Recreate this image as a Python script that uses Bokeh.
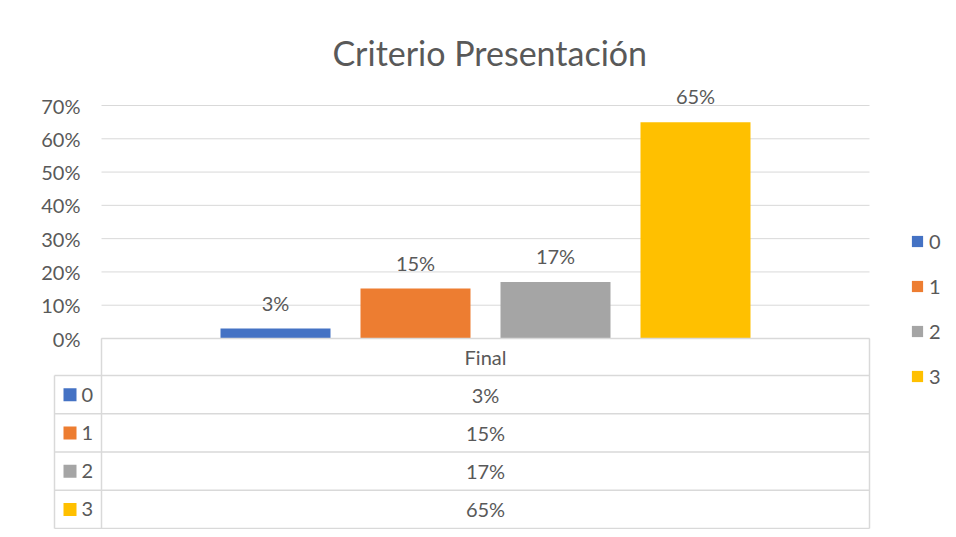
from bokeh.plotting import figure
from bokeh.models import (Range1d, FixedTicker, NumeralTickFormatter, Legend, LegendItem)
from bokeh.core.properties import value
from bokeh.embed import file_html
from bokeh.resources import INLINE

# ---- data ----
title_text = "Criterio Presentación"
category = "Final"
series = ["0", "1", "2", "3"]
values = [0.03, 0.15, 0.17, 0.65]
value_labels = ["3%", "15%", "17%", "65%"]
colors = ["#4472C4", "#ED7D31", "#A5A5A5", "#FFC000"]
y_ticks = [0.0, 0.1, 0.2, 0.3, 0.4, 0.5, 0.6, 0.7]

FONT = "Lato"
TXT = "#595959"
GRID = "#D9D9D9"
FS = "20px"

# ---- layout constants (pixels -> data units) ----
PX_Y = 0.7 / 233.0        # data units per pixel vertically
PX_X = 1.0 / 768.0        # data units per pixel horizontally (plot area = 0..1)

W, H = 948, 529
p = figure(width=W, height=H, output_backend="svg", toolbar_location=None,
           x_range=Range1d(-49 * PX_X, 1 + 79 * PX_X),
           y_range=Range1d(-191 * PX_Y, 0.7 + 25 * PX_Y),
           x_axis_location=None, y_axis_location="left",
           min_border_left=52, min_border_right=0, min_border_top=80, min_border_bottom=0)
p.outline_line_color = None
p.xgrid.visible = False
p.ygrid.visible = False

p.title.text = title_text
p.title.align = "left"
p.title.text_font = FONT
p.title.text_font_size = "34px"
p.title.text_font_style = "normal"
p.title.text_color = TXT
p.title.offset = 280
p.title.standoff = 16

yax = p.yaxis[0]
yax.ticker = FixedTicker(ticks=y_ticks)
yax.formatter = NumeralTickFormatter(format="0%")
yax.axis_line_color = None
yax.major_tick_line_color = None
yax.minor_tick_line_color = None
yax.major_tick_out = 0
yax.major_label_standoff = -28
yax.major_label_text_font = FONT
yax.major_label_text_font_size = FS
yax.major_label_text_color = TXT

# gridlines over the plot area only
p.segment(x0=[0.0] * len(y_ticks), x1=[1.0] * len(y_ticks), y0=y_ticks, y1=y_ticks,
          line_color=GRID, line_width=1)

# bars
step = 140 * PX_X
bw = 110 * PX_X
centers = [0.5 + (i - 1.5) * step for i in range(len(series))]
items = []
for i, s in enumerate(series):
    r = p.vbar(x=[centers[i]], top=[values[i]], bottom=0, width=bw,
               fill_color=colors[i], line_color=None)
    items.append(LegendItem(label=s, renderers=[r]))

# data labels
p.text(x=centers, y=values, text=value_labels, text_align="center", text_baseline="middle",
       y_offset=-26, text_font=value(FONT), text_font_size=FS, text_color=TXT)

# ---- data table ----
left_x = -47 * PX_X
header_h = 37 * PX_Y
row_h = 38.25 * PX_Y
n = len(series)
bottom_y = -header_h - n * row_h
row_tops = [-header_h - k * row_h for k in range(n)]
row_mid = [t - row_h / 2 for t in row_tops]

TL = "#D9D9D9"
p.segment(x0=[0, 1, 0], x1=[0, 1, 1], y0=[0, 0, 0], y1=[bottom_y, bottom_y, 0],
          line_color=TL, line_width=1.5)
p.segment(x0=[left_x] * (n + 1), x1=[1] * (n + 1),
          y0=row_tops + [bottom_y], y1=row_tops + [bottom_y], line_color=TL, line_width=1.5)
p.segment(x0=[left_x], x1=[left_x], y0=[-header_h], y1=[bottom_y], line_color=TL, line_width=1.5)

p.text(x=[0.5], y=[-header_h / 2], text=[category], text_align="center", text_baseline="middle",
       text_font=value(FONT), text_font_size=FS, text_color=TXT)
p.text(x=[0.5] * n, y=row_mid, text=value_labels, text_align="center", text_baseline="middle",
       text_font=value(FONT), text_font_size=FS, text_color=TXT)
p.scatter(x=[-31.5 * PX_X] * n, y=row_mid, marker="square", size=13, fill_color=colors,
          line_color=None)
p.text(x=[-20 * PX_X] * n, y=row_mid, text=series, text_align="left", text_baseline="middle",
       text_font=value(FONT), text_font_size=FS, text_color=TXT)

# legend (inside the extended frame, right of the plot area)
legend = Legend(items=items, location=(858, 141), orientation="vertical",
                label_text_font=FONT, label_text_font_size=FS, label_text_color=TXT,
                glyph_width=14, glyph_height=14, label_height=12, label_standoff=5,
                spacing=21, padding=0, margin=0, border_line_color=None,
                background_fill_alpha=0)
p.add_layout(legend)

open("out.html", "w").write(file_html(p, INLINE))
